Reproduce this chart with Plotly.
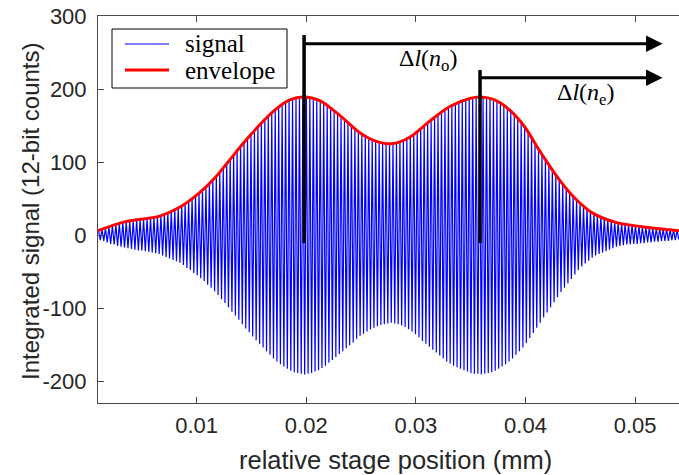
import numpy as np
import plotly.graph_objects as go

# ---------------- data ----------------
# interference fringes: value at each fringe maximum and the following minimum
fringe_peaks = [6, 8, 9, 11, 13, 14, 16, 17, 18, 19,
                20, 21, 21, 22, 23, 24, 25, 25, 27, 29,
                31, 33, 35, 37, 40, 43, 47, 50, 54, 57,
                62, 66, 71, 76, 81, 86, 92, 98, 104, 110,
                115, 121, 127, 132, 138, 143, 148, 153, 158, 162,
                167, 171, 175, 178, 181, 184, 186, 188, 188, 189,
                189, 188, 187, 185, 183, 180, 177, 173, 170, 166,
                162, 158, 154, 150, 146, 142, 138, 136, 133, 131,
                129, 127, 126, 126, 125, 126, 127, 129, 131, 133,
                135, 138, 142, 146, 150, 154, 157, 161, 164, 168,
                171, 175, 177, 179, 181, 183, 185, 187, 188, 188,
                189, 189, 188, 187, 185, 183, 180, 177, 173, 170,
                164, 159, 154, 148, 141, 133, 126, 118, 111, 104,
                97, 90, 83, 76, 70, 65, 59, 54, 48, 44,
                40, 37, 33, 29, 28, 26, 24, 22, 20, 18,
                17, 16, 15, 14, 14, 13, 12, 12, 11, 10,
                10, 9, 9, 8, 8, 7, 7, 6]
fringe_troughs = [-7, -8, -10, -12, -13, -15, -16, -17, -18, -19,
                  -20, -21, -21, -22, -23, -24, -25, -26, -28, -30,
                  -32, -34, -36, -38, -41, -45, -48, -52, -55, -59,
                  -63, -68, -72, -77, -82, -88, -93, -99, -105, -110,
                  -116, -122, -128, -133, -139, -144, -149, -154, -159, -164,
                  -169, -173, -177, -180, -183, -186, -188, -189, -190, -191,
                  -190, -189, -187, -185, -182, -179, -175, -171, -167, -163,
                  -159, -155, -151, -147, -142, -138, -135, -132, -129, -127,
                  -125, -123, -122, -121, -120, -121, -122, -124, -126, -129,
                  -132, -136, -140, -145, -149, -153, -157, -161, -165, -169,
                  -173, -176, -179, -181, -183, -185, -187, -189, -190, -190,
                  -191, -190, -189, -188, -186, -183, -180, -177, -173, -169,
                  -164, -159, -154, -148, -141, -134, -127, -120, -113, -106,
                  -99, -92, -85, -78, -72, -66, -60, -54, -48, -43,
                  -39, -35, -31, -28, -26, -24, -22, -20, -18, -16,
                  -15, -14, -13, -13, -12, -12, -11, -11, -10, -10,
                  -9, -9, -8, -8, -8, -7, -7, -6]
fringe_start_mm = 0.00105      # position of first fringe maximum
fringe_period_mm = 0.000316    # stage travel per fringe

# upper envelope
envelope_x = [0.0010, 0.00344, 0.00663, 0.00845, 0.01028, 0.01165, 0.01302, 0.01439,
              0.01576, 0.01712, 0.01849, 0.01977, 0.02123, 0.02305, 0.02488, 0.02625,
              0.02780, 0.02944, 0.03126, 0.03309, 0.03491, 0.03591, 0.03719, 0.03856,
              0.03993, 0.04130, 0.04312, 0.04467, 0.04613, 0.04832, 0.05133, 0.0540]
envelope_y = [6, 18, 26, 38, 58, 78, 103, 128,
              151, 171, 185, 189, 184, 164, 140, 129,
              125, 134, 156, 176, 187, 189, 185, 171,
              148, 115, 75, 48, 30, 17, 10, 6]

series_names = ["signal", "envelope"]

# delay markers (ordinary / extraordinary)
delay_o_x = 0.0198
delay_e_x = 0.03585
marker_bottom = -11
delay_o_top, delay_o_arrow_y = 274, 262
delay_e_top, delay_e_arrow_y = 226, 215.5
arrow_tip_x = 0.0525

x_ticks = [0.01, 0.02, 0.03, 0.04, 0.05]
x_tick_labels = ["0.01", "0.02", "0.03", "0.04", "0.05"]
y_ticks = [-200, -100, 0, 100, 200, 300]
y_tick_labels = ["-200", "-100", "0", "100", "200", "300"]

# ---------------- layout geometry (pixels) ----------------
W, H = 679, 475
ML, MR, MT, MB = 98, 0, 16, 72
PW, PH = W - ML - MR, H - MT - MB


def px(xpix):
    return (xpix - ML) / PW


def py(ypix):
    return 1 - (ypix - MT) / PH


# ---------------- build signal polyline ----------------
n = len(fringe_peaks)
peak_x = fringe_start_mm + fringe_period_mm * np.arange(n)
trough_x = peak_x + fringe_period_mm / 2
sig_x = np.empty(2 * n)
sig_y = np.empty(2 * n)
sig_x[0::2] = peak_x
sig_x[1::2] = trough_x
sig_y[0::2] = fringe_peaks
sig_y[1::2] = fringe_troughs

SANS = "Liberation Sans, Arial"
SERIF = "Liberation Serif, Times New Roman"
AX = "#4a4a4a"
TXT = "#262626"
BLUE, RED = "#0000ff", "#ff0000"

fig = go.Figure()
fig.add_trace(go.Scatter(x=sig_x, y=sig_y, mode="lines", name=series_names[0],
                         line=dict(color=BLUE, width=1.2), showlegend=False))
fig.add_trace(go.Scatter(x=envelope_x, y=envelope_y, mode="lines", name=series_names[1],
                         line=dict(color=RED, width=3, shape="spline", smoothing=0.8),
                         showlegend=False))

for vx, top in [(delay_o_x, delay_o_top), (delay_e_x, delay_e_top)]:
    fig.add_shape(type="line", xref="x", yref="y", x0=vx, x1=vx, y0=marker_bottom, y1=top,
                  line=dict(color="black", width=3.5), layer="above")

# legend box drawn by hand
fig.add_shape(type="rect", xref="paper", yref="paper", x0=px(112), x1=px(287),
              y0=py(88), y1=py(29), line=dict(color="black", width=1),
              fillcolor="white", layer="above")
fig.add_shape(type="line", xref="paper", yref="paper", x0=px(125), x1=px(169),
              y0=py(44), y1=py(44), line=dict(color=BLUE, width=1), layer="above")
fig.add_shape(type="line", xref="paper", yref="paper", x0=px(125), x1=px(169),
              y0=py(70), y1=py(70), line=dict(color=RED, width=3), layer="above")

ann = []
for vx, ay in [(delay_o_x, delay_o_arrow_y), (delay_e_x, delay_e_arrow_y)]:
    ann.append(dict(x=arrow_tip_x, y=ay, ax=vx - 0.0002, ay=ay, xref="x", yref="y",
                    axref="x", ayref="y", showarrow=True, arrowhead=2, arrowsize=1.1,
                    arrowwidth=3, arrowcolor="black", text=""))
ann.append(dict(x=px(183), y=py(44), xref="paper", yref="paper", showarrow=False,
                text=series_names[0], xanchor="left", yanchor="middle",
                font=dict(family=SERIF, size=25, color="black")))
ann.append(dict(x=px(183), y=py(70), xref="paper", yref="paper", showarrow=False,
                text=series_names[1], xanchor="left", yanchor="middle",
                font=dict(family=SERIF, size=25, color="black")))
ann.append(dict(x=0.03117, y=240, xref="x", yref="y", showarrow=False,
                text="Δ<i>l</i>(<i>n</i><sub>o</sub>)",
                font=dict(family=SERIF, size=24, color="black")))
ann.append(dict(x=0.04549, y=193, xref="x", yref="y", showarrow=False,
                text="Δ<i>l</i>(<i>n</i><sub>e</sub>)",
                font=dict(family=SERIF, size=24, color="black")))
ann.append(dict(x=px(395), y=py(460), xref="paper", yref="paper", showarrow=False,
                text="relative stage position (mm)", yanchor="middle",
                font=dict(family=SANS, size=25.5, color=TXT)))
ann.append(dict(x=px(30), y=py(211), xref="paper", yref="paper", showarrow=False,
                text="Integrated signal (12-bit counts)", textangle=-90,
                xanchor="center", yanchor="middle",
                font=dict(family=SANS, size=24, color=TXT)))

fig.update_layout(
    width=W, height=H,
    margin=dict(l=ML, r=MR, t=MT, b=MB, autoexpand=False),
    paper_bgcolor="white", plot_bgcolor="white",
    showlegend=False,
    annotations=ann,
)
fig.update_xaxes(range=[0.0010, 0.0540], tickvals=x_ticks, ticktext=x_tick_labels,
                 ticks="inside", ticklen=6, tickcolor=AX, showline=True, linecolor=AX,
                 linewidth=1, mirror="ticks", showgrid=False, zeroline=False,
                 automargin=False, ticklabelstandoff=3,
                 tickfont=dict(family=SANS, size=22, color=TXT))
fig.update_yaxes(range=[-230, 300], tickvals=y_ticks, ticktext=y_tick_labels,
                 ticks="inside", ticklen=6, tickcolor=AX, showline=True, linecolor=AX,
                 linewidth=1, mirror=False, showgrid=False, zeroline=False,
                 automargin=False, ticklabelstandoff=6,
                 tickfont=dict(family=SANS, size=22, color=TXT))

fig.write_html("out.html", config={"displayModeBar": False},
               post_script="document.body.style.margin='0';document.body.style.overflow='hidden';")
